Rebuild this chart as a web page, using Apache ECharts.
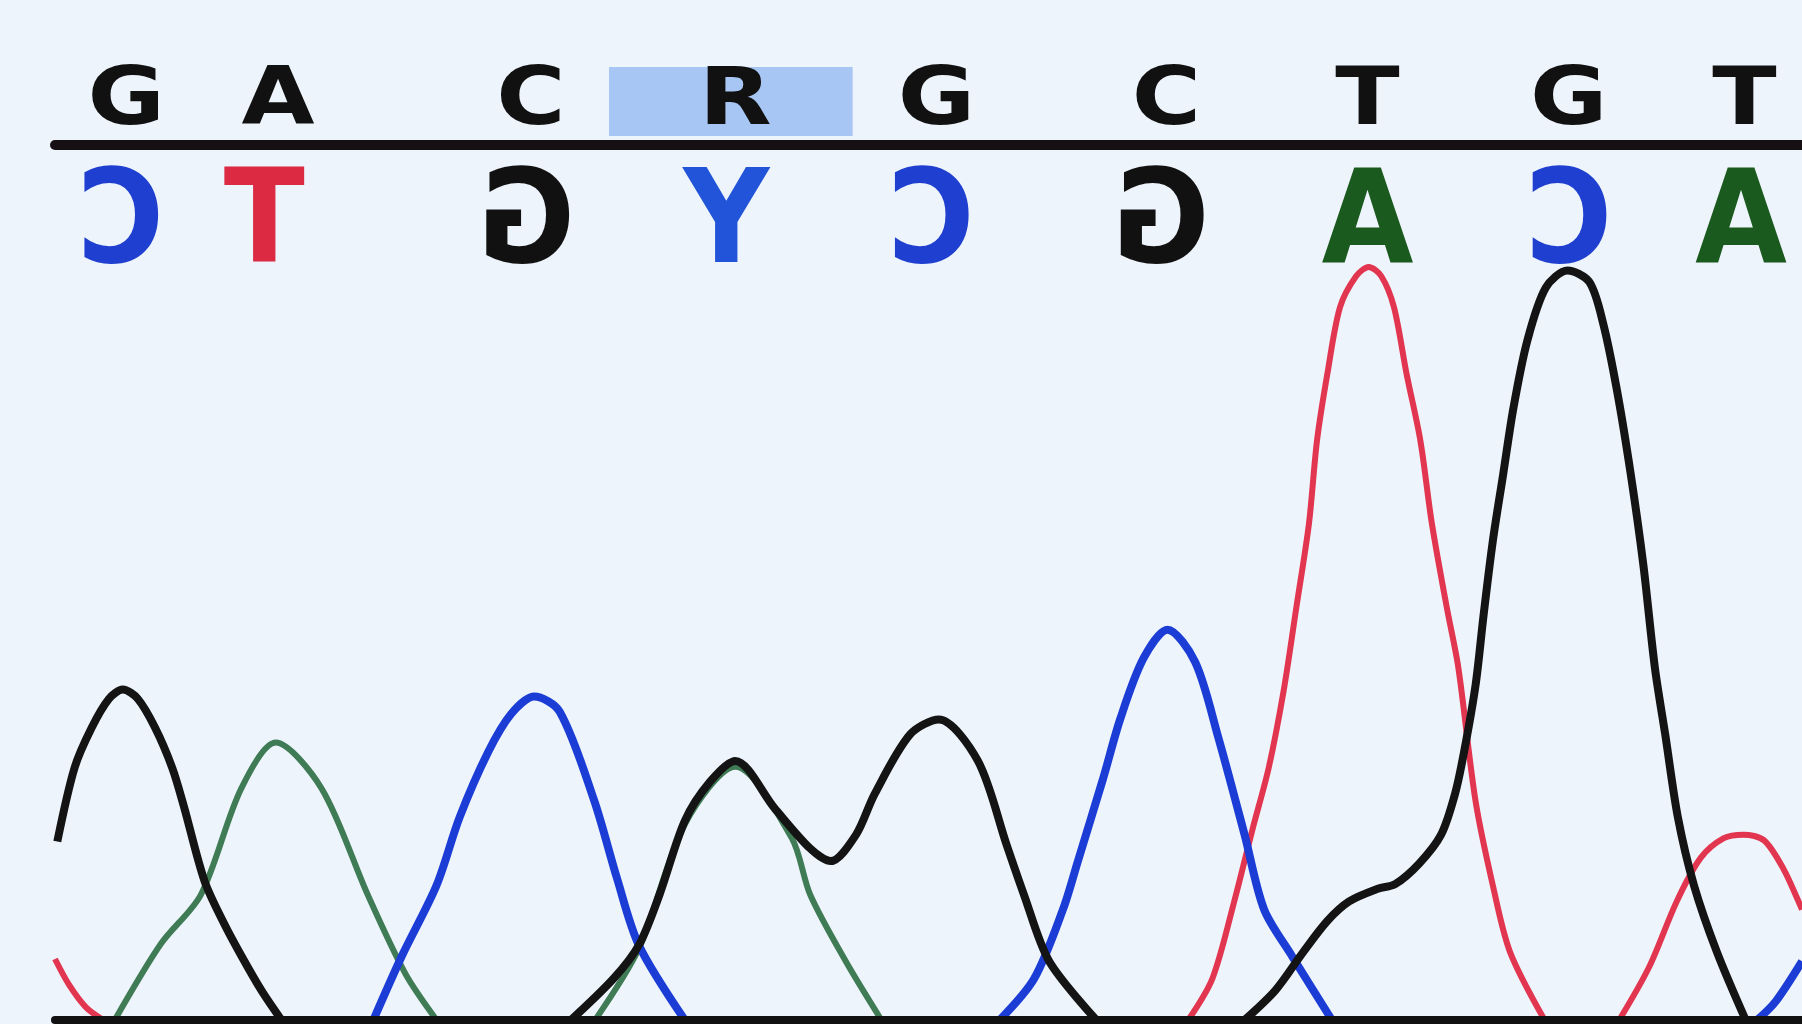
<!DOCTYPE html>
<html>
<head>
<meta charset="utf-8">
<title>Chromatogram</title>
<script src="https://cdn.jsdelivr.net/npm/echarts@6/dist/echarts.min.js"></script>
<style>
	html, body { margin: 0; padding: 0; background: #eef4fb; }
	#chart { width: 1802px; height: 1024px; }
</style>
</head>
<body>
<div id="chart"></div>
<script>
// base calls, forward strand (top row) and complement (bottom row, drawn mirrored)
let topBases = ['G', 'A', 'C', 'R', 'G', 'C', 'T', 'G', 'T'];
let topPos = [62, 194, 414, 592, 767, 967, 1142, 1317, 1470];
let bottomBases = ['C', 'T', 'G', 'Y', 'C', 'G', 'A', 'C', 'A'];
let bottomPos = [57, 182, 410, 584, 762, 962, 1142, 1317, 1467];
let ambiguousIndex = 3; // R, highlighted

// trace intensities [scan, signal]; '-' breaks the line where it sits on the baseline
let traceG = [
	[2, 155], [17, 219], [32, 254], [47, 279], [59, 287], [72, 279], [87, 254], [102, 219],
	[112, 186], [130, 121], [147, 84], [162, 56], [180, 25], [197, 0],
	[300, '-'],
	[449, 0], [486, 36], [508, 65], [526, 109], [548, 173], [570, 207], [592, 225], [626, 184],
	[657, 149], [675, 138], [697, 161], [713, 196], [744, 248], [769, 261], [803, 225],
	[828, 152], [843, 109], [865, 51], [906, 0],
	[950, '-'],
	[1035, 0], [1062, 26], [1086, 59], [1107, 86], [1126, 103], [1151, 114], [1166, 118],
	[1187, 136], [1206, 161], [1218, 196], [1226, 233], [1236, 291], [1243, 352], [1251, 416],
	[1260, 474], [1269, 532], [1281, 590], [1297, 636], [1316, 651], [1335, 641], [1347, 605],
	[1359, 547], [1371, 474], [1382, 395], [1392, 306], [1401, 248], [1412, 176], [1426, 117],
	[1446, 59], [1471, 0]
];
let traceA = [
	[52, 0], [92, 66], [127, 109], [162, 201], [192, 241], [232, 201], [272, 109], [305, 40], [332, 0],
	[400, '-'],
	[470, 0], [508, 62], [548, 170], [592, 220], [641, 158], [657, 109], [688, 51], [719, 0]
];
let traceC = [
	[277, 0], [302, 56], [332, 117], [352, 176], [377, 233], [397, 266], [417, 281], [439, 268],
	[469, 191], [489, 123], [508, 65], [548, 0],
	[700, '-'],
	[822, 0], [852, 36], [877, 96], [890, 138], [912, 210], [927, 262], [947, 314], [968, 339],
	[992, 311], [1012, 246], [1035, 161], [1052, 96], [1076, 56], [1111, 0],
	[1300, '-'],
	[1481, 0], [1497, 16], [1520, 51]
];
let traceT = [
	[0, 53], [12, 31], [27, 11], [42, 0],
	[500, '-'],
	[986, 0], [1007, 36], [1026, 103], [1042, 166], [1056, 219], [1069, 286], [1080, 358],
	[1091, 431], [1098, 503], [1107, 561], [1118, 619], [1132, 646], [1143, 654], [1154, 646],
	[1165, 619], [1176, 561], [1188, 503], [1198, 431], [1211, 358], [1221, 306], [1236, 190],
	[1251, 117], [1266, 59], [1296, 0],
	[1330, '-'],
	[1361, 0], [1387, 46], [1411, 103], [1432, 141], [1452, 158], [1469, 161], [1487, 156],
	[1504, 131], [1517, 103], [1520, 96]
];

let baseColors = { G: '#111111', A: '#1b5a1f', C: '#1e3fcf', T: '#dc2a42', Y: '#2154d8', R: '#111111' };
let FONT = '"DejaVu Sans", sans-serif';
let HIGHLIGHT_PAD_LEFT = 110, HIGHLIGHT_PAD_RIGHT = 102;

function traceSeries(name, data, color, width)
{
	return {
		name: name,
		type: 'line',
		data: data,
		smooth: 0.3,
		showSymbol: false,
		connectNulls: false,
		silent: true,
		lineStyle: { color: color, width: width },
		z: 2
	};
}

function labelSeries(bases, pos, mirrored)
{
	return {
		type: 'custom',
		silent: true,
		z: 6,
		data: pos.map((p, i) => [p, i]),
		renderItem: function(params, api)
		{
			let i = api.value(1),
				x = api.coord([api.value(0), 0])[0],
				top = params.coordSys.y,
				base = bases[i],
				children = [];

			if(!mirrored && i === ambiguousIndex)
			{
				let x0 = api.coord([api.value(0) - HIGHLIGHT_PAD_LEFT, 0])[0],
					x1 = api.coord([api.value(0) + HIGHLIGHT_PAD_RIGHT, 0])[0];
				children.push({
					type: 'rect',
					shape: { x: x0, y: top - 78, width: x1 - x0, height: 69 },
					style: { fill: '#a8c6f3' }
				});
			}

			children.push({
				type: 'text',
				x: x,
				y: mirrored ? top + 83 : top - 42,
				scaleX: mirrored ? -1.1 : 1.18,
				scaleY: mirrored ? 1.2 : 1,
				style: {
					text: base,
					fill: mirrored ? baseColors[base] : '#111111',
					fontFamily: FONT,
					fontWeight: 'bold',
					fontSize: mirrored ? 108 : 80,
					align: 'center',
					verticalAlign: 'middle'
				}
			});
			return { type: 'group', children: children };
		}
	};
}

let chart = echarts.init(document.getElementById('chart'), null, { renderer: 'canvas' });

chart.setOption({
	backgroundColor: '#eef4fb',
	animation: false,
	grid: { left: 55, right: 0, top: 145, bottom: 4 },
	xAxis: [
		{
			type: 'value', min: 0, max: 1520, z: 10,
			axisLine: { show: true, lineStyle: { color: '#111111', width: 8 } },
			axisTick: { show: false }, axisLabel: { show: false }, splitLine: { show: false }
		},
		{
			type: 'value', min: 0, max: 1520, position: 'top', z: 10,
			axisLine: { show: true, lineStyle: { color: '#161014', width: 10 } },
			axisTick: { show: false }, axisLabel: { show: false }, splitLine: { show: false }
		}
	],
	yAxis: {
		type: 'value', min: 0, max: 760,
		axisLine: { show: false }, axisTick: { show: false },
		axisLabel: { show: false }, splitLine: { show: false }
	},
	series: [
		traceSeries('A', traceA, '#3f7b55', 6),
		traceSeries('T', traceT, '#e2354f', 6),
		traceSeries('C', traceC, '#1b3dd6', 8),
		traceSeries('G', traceG, '#141414', 8),
		labelSeries(topBases, topPos, false),
		labelSeries(bottomBases, bottomPos, true)
	]
});
</script>
</body>
</html>
